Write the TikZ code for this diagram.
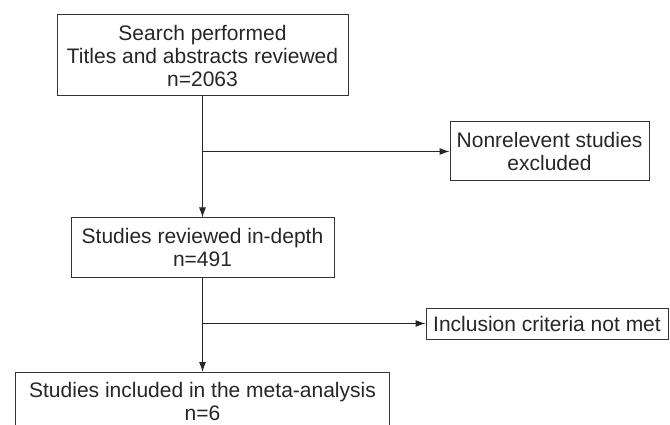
\documentclass[tikz,border=0pt]{standalone}
\usepackage{fontspec}
\setmainfont{Liberation Sans}
\usetikzlibrary{positioning}
\usetikzlibrary{arrows.meta}

\begin{document}
\begin{tikzpicture}[x=1pt,y=-1pt,
	box/.style={draw=black!80, line width=1pt, align=center, inner sep=0pt, font=\fontsize{21}{23}\selectfont, text=black!85},
	link/.style={draw=black!85, line width=1pt, -{Latex[length=10pt,width=7pt]}}]
	\useasboundingbox (0,0) rectangle (670,425);
	% Boxes %
	\node [box, minimum width=291pt, minimum height=81pt] (search) at (202.5,55.5) {Search performed\\Titles and abstracts reviewed\\n=2063};
	\node [box, minimum width=199pt, minimum height=59pt] (excluded) at (549.5,151.5) {Nonrelevent studies\\excluded};
	\node [box, minimum width=263pt, minimum height=59pt] (indepth) at (202.5,247.5) {Studies reviewed in-depth\\n=491};
	\node [box, minimum width=242pt, minimum height=31pt] (notmet) at (547,323.5) {Inclusion criteria not met};
	\node [box, minimum width=374pt, minimum height=58pt, anchor=north] (included) at (202.5,372) {Studies included in the meta-analysis\\n=6};
	% Arrows %
	\draw [link] (search.south) -- (indepth.north);
	\draw [link] (search.south |- excluded.west) -- (excluded.west);
	\draw [link] (indepth.south) -- (included.north);
	\draw [link] (indepth.south |- notmet.west) -- (notmet.west);
\end{tikzpicture}
\end{document}
